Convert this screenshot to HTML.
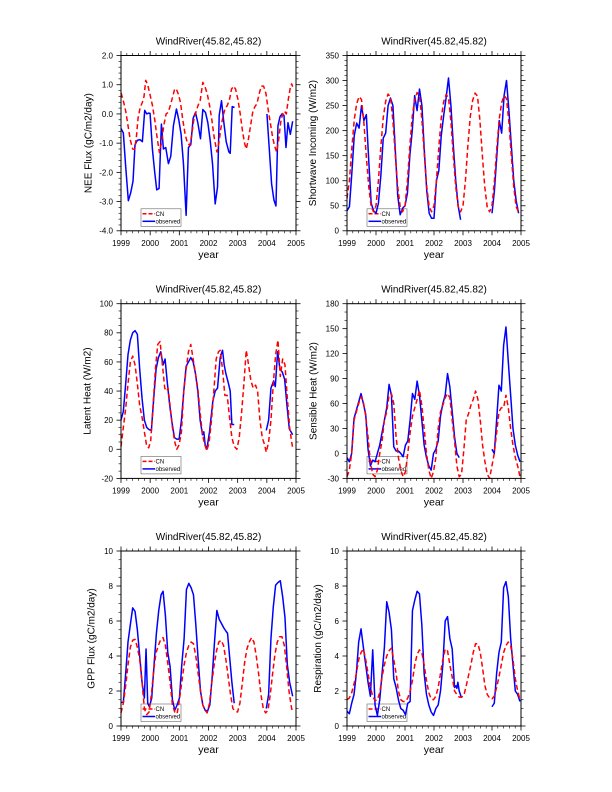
<!DOCTYPE html>
<html><head><meta charset="utf-8">
<style>html,body{margin:0;padding:0;background:#fff}svg{display:block}</style>
</head><body>
<svg id="s" width="612" height="792" xmlns="http://www.w3.org/2000/svg" font-family="'Liberation Sans', Arial, sans-serif"></svg>
<script>
function monthly(arr,x0,x1){const r=[];const seg=[];let cur=[];arr.forEach((v,m)=>{if(v===null){if(cur.length){seg.push(cur);cur=[];}}else{cur.push(x0+m*(x1-x0)/72,v);}});if(cur.length)seg.push(cur);return seg;}
// P2 CN from template
const T2=[50,100,165,222,254,268,262,215,148,88,48,38],pk=[268,273,276,272,275,270];
const cn2=[];for(let y=0;y<6;y++)for(let k=0;k<12;k++){let v=T2[k];if(v>100)v=38+(v-38)*(pk[y]-38)/(268-38);cn2.push(v);}cn2[0]=65;
const N=null;
const ob2=[40,48,115,190,215,205,250,220,232,140,55,40,
 35,55,110,185,195,250,265,250,160,70,32,45,
 50,75,150,200,270,240,283,250,160,80,35,25,
 25,100,120,190,230,265,305,250,170,100,50,22,
 N,N,N,N,N,N,N,N,N,N,N,N,
 35,80,150,220,195,270,300,240,170,100,60,35];

const panels=[
{L:121,T:55.5,W:175,H:175.3,x0:183,x1:707,ymin:-4,ymax:2,step:1,minor:4,fmt:v=>v.toFixed(1),ylab:'NEE Flux (gC/m2/day)',ylx:89,
cn:[[183,.72,190,.45,197,.1,204,-.4,211,-.9,218,-1.2,224,-1.22,229,-.8,234,-.15,240,.2,247,.4,252,.6,257,1.15,263,1.0,270,.65,277,.3,284,-.2,291,-.8,298,-1.32,304,-1.0,311,-.4,318,0,324,.05,331,.3,338,.6,343,.82,348,.87,354,.7,361,.4,368,-.2,375,-.7,382,-1.0,389,-1.08,395,-.7,401,-.2,407,.05,414,.3,420,.45,428,1.08,434,.95,441,.7,448,.3,455,-.2,462,-.8,470,-1.3,476,-1.0,482,-.5,488,-.1,495,.2,501,.28,508,.5,514,.85,520,.95,526,.85,533,.5,540,0,547,-.6,553,-1.0,558,-1.2,564,-.9,571,-.4,578,.1,584,.25,590,.35,597,.7,603,.95,610,.95,617,.7,623,.2,630,-.3,637,-.8,643,-1.1,649,-1.3,655,-.9,661,-.3,667,0,672,.1,678,0,684,.5,690,.9,694,1.03,697,.93]],
ob:[[183,-.5,190,-.65,197,-1.8,205,-2.97,212,-2.7,219,-2.3,225,-1.05,232,-.9,240,-.88,247,-.95,254,.12,260,0,266,.03,270,.02,277,-1.2,284,-2.0,290,-2.6,297,-2.55,304,-.35,310,-1.2,317,-1.15,325,-1.7,332,-1.45,340,-.4,349,.17,356,-.2,363,-.7,370,-1.7,378,-3.47,385,-1.15,392,-1.05,399,-.15,406,.05,413,-.3,421,-.85,428,.15,436,.05,443,-.3,450,-.9,457,-1.7,465,-3.08,472,-2.5,477,-.05,484,.45,491,-.3,498,-.95,506,-1.3,510,-1.35,516,.25,523,.22],
[620,0,627,-1.2,634,-2.4,641,-2.95,647,-3.15,653,-.4,659,-.1,665,0,671,-.05,677,-1.15,683,-.3,690,-.7,697,-.25]]},
{L:347,T:55.5,W:174,H:175.3,x0:142,x1:663,ymin:0,ymax:350,step:50,minor:4,fmt:v=>String(v),ylab:'Shortwave Incoming (W/m2)',ylx:313.3,
cn:monthly(cn2,142,663),ob:monthly(ob2,142,663)},
{L:121,T:303.7,W:175,H:174.7,x0:183,x1:707,ymin:-20,ymax:100,step:20,minor:3,fmt:v=>String(v),ylab:'Latent Heat (W/m2)',ylx:88,
cn:[[183,2,190,15,197,28,204,45,211,60,218,64,225,58,232,45,239,30,246,22,253,12,260,2,266,1,272,6,279,30,286,55,293,72,300,74,307,58,314,42,320,40,324,42,330,30,337,15,344,5,350,0,357,3,364,12,371,40,378,55,385,67,392,72,399,62,406,52,413,42,420,25,427,10,434,3,440,-1,447,5,454,20,461,40,468,62,475,67,480,68,487,55,494,37,501,37,508,22,515,8,522,2,530,0,537,8,544,25,551,45,558,68,565,58,572,47,579,42,586,44,592,40,599,20,606,8,613,3,618,-2,625,5,632,20,639,45,646,65,653,75,660,50,667,62,674,58,681,35,688,15,694,5,697,1]],
ob:[[183,20,190,26,197,45,204,65,211,75,218,80,225,81.5,232,79,239,55,246,35,253,20,260,15,267,13.5,274,13,281,35,288,55,295,63,302,67,309,58,315,62,322,45,329,30,336,18,343,8,350,7,357,7,364,20,371,40,378,57,385,60,392,63,399,60,406,52,413,40,420,20,427,10,431,12,435,3,440,0,448,12,458,33,465,40,472,42,480,63,487,68,492,58,497,52,505,45,510,40,515,17,522,17],
[618,13,625,20,632,42,640,47,645,43,652,67,659,55,666,53,673,48,680,30,687,14,697,10]]},
{L:347,T:303.7,W:174,H:174.7,x0:142,x1:663,ymin:-30,ymax:180,step:30,minor:2,fmt:v=>String(v),ylab:'Sensible Heat (W/m2)',ylx:314,
cn:[[142,-28,149,-20,156,0,163,40,170,50,177,60,184,68,191,62,198,45,205,20,212,-10,219,-25,226,-28,233,-20,240,0,247,15,254,40,261,50,268,70,275,72,282,60,289,20,296,-5,303,-20,310,-28,317,-22,324,0,331,25,338,45,345,55,352,65,359,76,366,58,373,30,380,0,387,-20,394,-30,401,-22,408,-5,415,30,422,50,429,58,436,67,443,72,450,67,457,40,464,15,471,-15,478,-28,485,-25,492,5,499,40,506,48,513,58,520,65,527,75,534,65,541,40,548,10,555,-10,562,-25,569,-30,576,-15,583,0,590,25,597,50,604,55,611,55,618,70,625,55,632,30,639,10,646,-5,653,-15,660,-28]],
ob:[[142,-5,149,-10,156,0,163,42,170,52,177,62,184,72,191,60,198,47,205,5,212,-15,219,-8,226,-10,233,0,240,10,247,25,254,40,261,55,268,83,275,70,282,8,289,3,296,3,303,0,310,-4,317,10,324,15,331,40,338,72,345,65,352,87,359,70,366,40,373,10,380,-5,387,-15,394,-20,401,0,408,5,415,15,422,45,429,60,436,70,443,96,450,80,457,50,464,20,471,0,478,-5],
[576,5,583,0,590,40,597,82,604,75,611,130,618,152,625,110,632,70,639,30,646,10,653,-2,660,-10]]},
{L:121,T:551,W:175,H:175,x0:183,x1:707,ymin:0,ymax:10,step:2,minor:3,fmt:v=>String(v),ylab:'GPP Flux (gC/m2/day)',ylx:92,
cn:[[183,.75,190,1.3,197,2.3,204,3.5,211,4.5,218,4.9,225,4.95,232,4.5,239,3.8,246,2.5,253,1.0,260,.65,267,.8,274,1.8,281,3.2,288,4.2,295,4.6,302,4.95,309,5.05,316,4.6,323,3.6,330,2.5,337,1.2,344,.8,351,.7,358,1.5,365,2.5,372,3.5,379,4.2,386,4.6,393,4.8,400,4.7,407,4.0,414,3.0,421,2.0,428,1.2,435,.9,441,.75,448,1.3,455,2.5,462,3.5,469,4.3,476,4.8,483,4.9,490,4.6,497,3.8,504,2.8,511,1.8,518,1.0,525,.85,532,.8,539,1.3,546,2.4,553,3.6,560,4.4,567,4.8,574,5.05,581,4.8,588,4.0,595,3.0,602,1.8,609,1.0,616,.75,623,.9,630,1.8,637,3.0,644,4.1,651,4.8,658,5.1,665,5.1,672,4.6,679,3.4,686,2.0,693,1.1,697,.75]],
ob:[[183,1.35,190,1.35,197,3.0,204,4.8,211,5.8,218,6.75,225,6.55,232,5.5,239,4.0,246,2.5,253,1.6,258,4.4,263,1.3,268,1.1,275,1.6,282,3.5,289,5.3,296,6.6,303,7.5,309,7.7,316,6.3,323,4.2,330,3.4,337,1.5,344,.9,351,1.2,358,1.6,365,3.5,372,5.0,379,7.8,386,8.15,393,7.9,400,7.5,407,5.8,414,3.8,421,2.0,428,1.2,435,.9,442,.85,449,1.2,456,2.8,463,4.8,470,6.6,477,6.1,484,5.85,491,5.6,498,5.4,502,5.3,508,4.0,515,2.5,522,1.3],
[618,1.0,625,1.8,632,5.0,639,6.8,646,8.05,653,8.2,660,8.3,667,7.4,674,6.2,681,3.5,688,2.5,697,1.7]]},
{L:347,T:551,W:174,H:175,x0:142,x1:663,ymin:0,ymax:10,step:2,minor:3,fmt:v=>String(v),ylab:'Respiration (gC/m2/day)',ylx:318.3,
cn:[[142,1.5,149,1.6,156,1.9,163,2.4,170,3.0,177,3.8,184,4.2,191,4.4,198,3.8,205,3.0,212,2.2,219,1.7,226,1.45,233,1.5,240,1.9,247,2.8,254,3.5,261,4.0,268,4.3,275,4.45,282,3.8,289,3.0,296,2.0,303,1.5,310,1.4,317,1.4,324,1.6,331,2.0,338,2.6,345,3.5,352,4.1,359,4.35,366,4.2,373,3.5,380,2.6,387,1.9,394,1.55,401,1.5,408,1.7,415,2.2,422,3.0,429,3.8,436,4.4,443,4.3,450,3.5,457,2.8,464,2.0,471,1.8,478,1.65,485,1.65,492,1.75,499,2.3,506,2.9,513,3.5,520,4.2,527,4.7,534,4.7,541,4.2,548,3.3,555,2.3,562,1.8,569,1.6,576,1.55,583,1.7,590,2.2,597,2.8,604,3.5,611,4.2,618,4.6,625,4.8,632,4.6,639,3.8,646,2.7,653,2.0,660,1.5]],
ob:[[142,.85,149,.7,156,1.3,163,1.8,170,3.0,177,4.8,184,5.55,191,4.5,198,3.5,205,2.5,212,1.7,219,4.35,226,1.2,233,.6,240,1.5,247,3.0,254,4.5,261,7.1,268,6.5,275,5.5,282,2.7,289,2.2,296,1.5,303,1.0,310,.9,317,.65,324,1.3,331,1.4,338,6.6,345,7.2,352,7.7,359,7.55,366,5.8,373,3.0,380,1.8,387,1.2,394,.8,401,.6,408,1.0,415,1.2,422,2.0,429,3.5,436,6.0,443,6.25,450,5.0,457,4.4,464,2.2,468,2.3,471,2.15,474,2.5,478,2.0,485,1.6],
[576,1.1,583,1.3,590,3.0,597,4.2,604,4.8,611,7.9,618,8.25,625,7.4,632,5.0,639,3.5,646,2.0,653,1.8,660,1.4]]}
];

let o='<rect width="612" height="792" fill="#fff"/>';
function ln(x1,y1,x2,y2,w){o+='<line x1="'+x1.toFixed(2)+'" y1="'+y1.toFixed(2)+'" x2="'+x2.toFixed(2)+'" y2="'+y2.toFixed(2)+'" stroke="#000" stroke-width="'+w+'"/>';}
function tx(x,y,s,size,anchor){o+='<text x="'+x.toFixed(2)+'" y="'+y.toFixed(2)+'" font-size="'+size+'" text-anchor="'+anchor+'" fill="#000">'+s+'</text>';}

panels.forEach(p=>{
 const R=p.L+p.W,B=p.T+p.H;
 const X=zx=>p.L+(zx-p.x0)/(p.x1-p.x0)*p.W;
 const Y=v=>p.T+(p.ymax-v)/(p.ymax-p.ymin)*p.H;
 // legend
 const lx=p.L+20,ly=B-22;
 o+='<rect x="'+lx+'" y="'+ly+'" width="40" height="17.5" fill="none" stroke="#666" stroke-width="0.6"/>';
 o+='<line x1="'+(lx+1.5)+'" y1="'+(ly+5)+'" x2="'+(lx+14)+'" y2="'+(ly+5)+'" stroke="#f00" stroke-width="1.5" stroke-dasharray="4,2"/>';
 o+='<line x1="'+(lx+1.5)+'" y1="'+(ly+12.5)+'" x2="'+(lx+14)+'" y2="'+(ly+12.5)+'" stroke="#00f" stroke-width="1.5"/>';
 tx(lx+14.5,ly+7,'CN',6,'start');
 tx(lx+14.5,ly+14.7,'observed',6,'start');
 // data
 const poly=(seg,col,dash)=>{let pts=[];for(let i=0;i<seg.length;i+=2)pts.push(X(seg[i]).toFixed(2)+','+Y(seg[i+1]).toFixed(2));
  o+='<polyline points="'+pts.join(' ')+'" fill="none" stroke="'+col+'" stroke-width="1.5" stroke-linejoin="round"'+(dash?' stroke-dasharray="5,3"':'')+'/>';};
 p.ob.forEach(s=>poly(s,'#0000ff',false));
 p.cn.forEach(s=>poly(s,'#ff0000',true));
 // frame
 o+='<rect x="'+p.L+'" y="'+p.T+'" width="'+p.W+'" height="'+p.H+'" fill="none" stroke="#000" stroke-width="1"/>';
 for(let i=0;i<=6;i++){const x=p.L+i*p.W/6;ln(x,B,x,B+4.5,.8);ln(x,p.T,x,p.T-4.5,.8);tx(x,B+15,String(1999+i),8,'middle');
  if(i<6)for(let k=1;k<5;k++){const xm=x+k*p.W/30;ln(xm,B,xm,B+2.5,.6);ln(xm,p.T,xm,p.T-2.5,.6);}}
 const n=Math.round((p.ymax-p.ymin)/p.step);
 for(let i=0;i<=n;i++){const v=p.ymin+i*p.step,y=Y(v);ln(p.L,y,p.L-4.5,y,.8);ln(R,y,R+4.5,y,.8);tx(p.L-8,y+2.9,p.fmt(v),8,'end');
  if(i<n)for(let k=1;k<=p.minor;k++){const ym=Y(v+k*p.step/(p.minor+1));ln(p.L,ym,p.L-2.5,ym,.6);ln(R,ym,R+2.5,ym,.6);}}
 tx(p.L+p.W/2,p.T-11,'WindRiver(45.82,45.82)',10,'middle');
 tx(p.L+p.W/2,B+27,'year',10.5,'middle');
 const cy=p.T+p.H/2;
 o+='<text x="'+p.ylx+'" y="'+cy+'" font-size="10" text-anchor="middle" dominant-baseline="central" transform="rotate(-90 '+p.ylx+' '+cy+')">'+p.ylab+'</text>';
});
document.getElementById('s').innerHTML=o;
</script>
</body></html>
